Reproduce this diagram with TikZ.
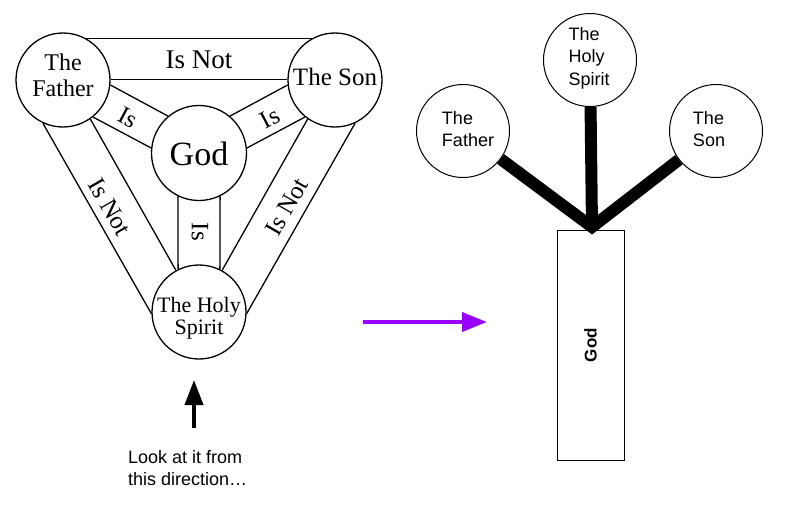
\documentclass[tikz,border=0pt]{standalone}
\usepackage{fontspec}
\setmainfont{Liberation Serif}
\newfontfamily\arialf{Liberation Sans}
\usetikzlibrary{arrows.meta,backgrounds}
\definecolor{arrowpurple}{HTML}{9900FF}
\begin{document}
\begin{tikzpicture}[x=1pt,y=-1pt,
  lcirc/.style={circle,draw,line width=1.3pt,minimum size=94pt,inner sep=0pt,fill=white},
  ltext/.style={inner sep=0pt,align=center},
  band/.style={line width=1.3pt},
  lbl/.style={inner sep=0pt,font=\fontsize{25}{27}\selectfont},
  rcirc/.style={circle,draw,line width=1pt,minimum size=93pt,inner sep=0pt,fill=white},
  rtext/.style={inner sep=0pt,align=left,font=\arialf\fontsize{18}{22.5}\selectfont},
  stem/.style={line width=12pt,line join=miter},
]
\useasboundingbox (0,0) rectangle (794,509);

% ---------- left: shield ----------
\node[lcirc] (F) at (63,80) {};
\node[lcirc] (S) at (335,80) {};
\node[lcirc,minimum size=95pt] (G) at (199,153) {};
\node[lcirc] (H) at (199,312) {};
\node[ltext,font=\fontsize{24}{26}\selectfont] (Ft) at (63,75) {The\\Father};
\node[ltext,font=\fontsize{25}{27}\selectfont] (St) at (335,77) {The Son};
\node[ltext,font=\fontsize{34}{36}\selectfont] (Gt) at (199,154) {God};
\node[ltext,font=\fontsize{22}{22.5}\selectfont] (Ht) at (199,318) {The Holy\\Spirit};

% outer "Is Not" bands
\draw[band] (F.61) -- (S.119);
\draw[band] (F.1) -- (S.179);
\draw[band] (F.-115) -- (H.182);
\draw[band] (F.-55) -- (H.119);
\draw[band] (S.-65) -- (H.-2);
\draw[band] (S.-125) -- (H.61);
% inner "Is" bands
\draw[band] (F.-6) -- (G.130);
\draw[band] (F.-51) -- (G.174);
\draw[band] (S.-174) -- (G.50);
\draw[band] (S.-129) -- (G.6);
\draw[band] (G.-116) -- (H.116);
\draw[band] (G.-64) -- (H.64);

\node[lbl,font=\fontsize{27}{29}\selectfont] (t1) at (199,60) {Is Not};
\node[lbl,rotate=-60] (t2) at (110,207) {Is Not};
\node[lbl,rotate=60] (t3) at (287,207) {Is Not};
\node[lbl,rotate=-28] (t4) at (128,118) {Is};
\node[lbl,rotate=28] (t5) at (270,118) {Is};
\node[lbl,rotate=-90] (t6) at (200,232) {Is};

% look-from arrow
\coordinate (la) at (194,428);
\coordinate (lb) at (194,380);
\draw[line width=4pt,-{Triangle[length=25pt,width=18pt]}] (la) -- (lb);
\node[rtext,anchor=north west] (look) at (128,450) {Look at it from\\this direction\ldots};

% purple arrow
\coordinate (pa) at (363,322);
\coordinate (pb) at (487,322);
\draw[arrowpurple,line width=4pt,-{Triangle[length=25pt,width=19pt]}] (pa) -- (pb);

% ---------- right: tree ----------
\node[rcirc] (FR) at (463,131) {};
\node[rcirc] (HR) at (590,60) {};
\node[rcirc] (SR) at (716,131) {};
\node[rtext] (FRt) at (468,129) {The\\Father};
\node[rtext] (HRt) at (589,58) {The\\Holy\\Spirit};
\node[rtext] (SRt) at (709,129) {The\\Son};
\coordinate (J) at (592,227);
\node[draw,line width=1pt,rotate=90,minimum width=230pt,minimum height=67pt,inner sep=0pt,
      font=\arialf\bfseries\fontsize{17}{19}\selectfont] (GR) at (590.5,345) {God};
\begin{scope}[on background layer]
\draw[stem] (FR) -- (J) -- (SR);
\draw[line width=12pt] (HR) -- (J);
\end{scope}
\end{tikzpicture}
\end{document}
